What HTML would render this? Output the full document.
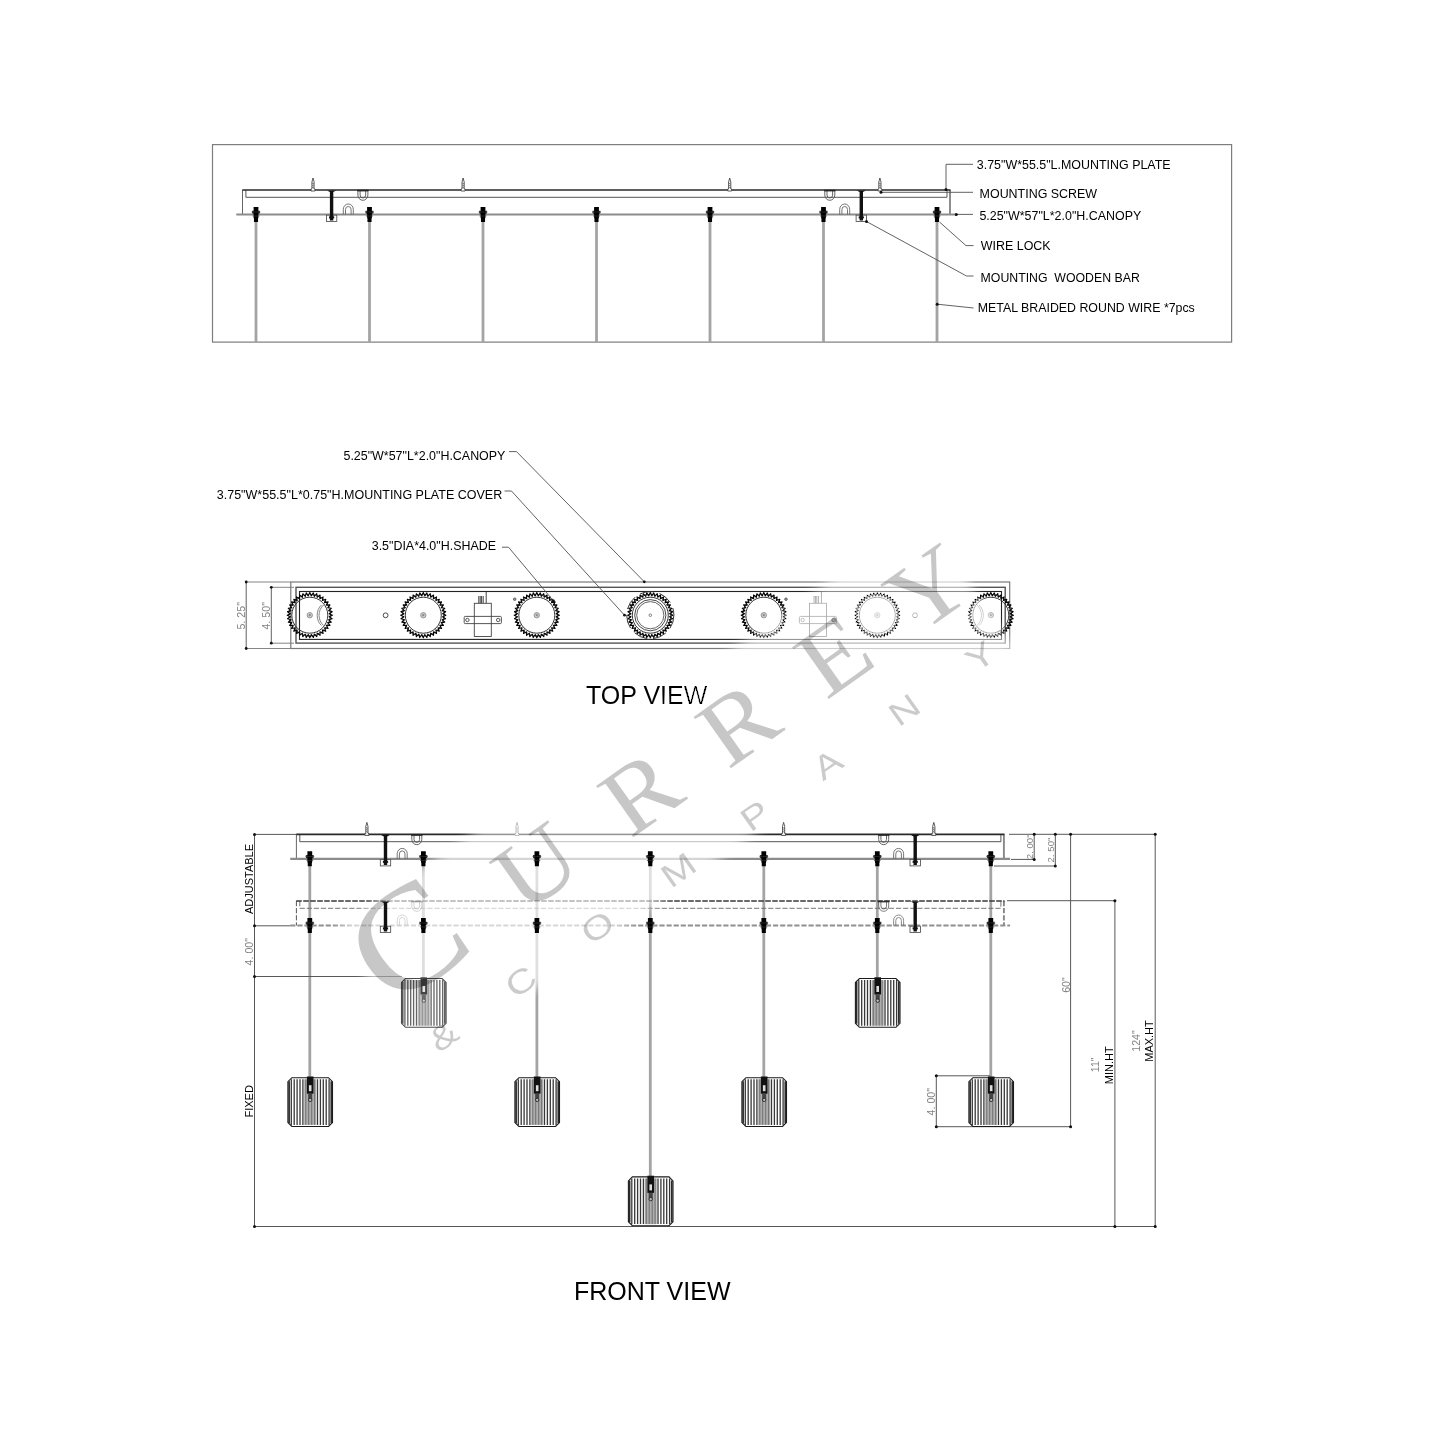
<!DOCTYPE html>
<html lang="en">
<head>
<meta charset="utf-8">
<title>Linear Multi-Drop Pendant - Dimension Drawing</title>
<style>
html,body{margin:0;padding:0;background:#fff;}
body{width:1445px;height:1445px;overflow:hidden;}
svg{display:block;filter:grayscale(1);}
text.s{font-family:"Liberation Sans",sans-serif;}
text.m{font-family:"Liberation Mono",monospace;}
text.serif{font-family:"Liberation Serif",serif;}
</style>
</head>
<body>
<svg width="1445" height="1445" viewBox="0 0 1445 1445">
<rect width="1445" height="1445" fill="#fff"/>
<defs>
<g id="lock"><path d="M-3.9,-3.8 H3.9 V-1.2 L2.6,-0.5 H-2.6 L-3.9,-1.2 Z" fill="#333"/><path d="M-2.4,-7.6 H2.4 V3.4 L2.05,4 V7.4 H-2.05 V4 L-2.4,3.4 Z" fill="#000"/><path d="M-4.4,-2.5 H4.4 M-3.4,1.5 H3.4" stroke="#333" stroke-width="0.7" fill="none"/></g>
<g id="screw"><path d="M0,-12 L1.1,-8 L1.1,-1 L2,-1 L2,1 L-2,1 L-2,-1 L-1.1,-1 L-1.1,-8 Z" fill="#fff" stroke="#333" stroke-width="0.8"/><path d="M-1,-7 L1,-6 M-1,-5 L1,-4 M-1,-3 L1,-2" stroke="#333" stroke-width="0.6"/></g>
<g id="bar"><rect x="-5.2" y="25.2" width="10.4" height="6.3" fill="#fff" stroke="#444" stroke-width="0.8"/><path d="M-4.6,0.4 L4.6,0.4 L1.7,2 L1.7,30.5 L-1.7,30.5 L-1.7,2 Z" fill="#111"/><rect x="-2.6" y="26.4" width="5.2" height="2" fill="#111"/></g>
<g id="ud" fill="none" stroke="#555" stroke-width="0.9"><path d="M-5,0.5 L-5,5 A5,5.3 0 0 0 5,5 L5,0.5"/><path d="M-2.8,0.5 L-2.8,5 A2.8,3 0 0 0 2.8,5 L2.8,0.5"/><path d="M-5.6,0.6 H5.6" stroke="#222" stroke-width="1.6"/></g>
<g id="uu" fill="none" stroke="#666" stroke-width="0.9"><path d="M-5,0 L-5,-5.2 A5,5.3 0 0 1 5,-5.2 L5,0"/><path d="M-2.8,0 L-2.8,-5 A2.8,3 0 0 1 2.8,-5 L2.8,0"/></g>
<g id="asm">
<path d="M0.2,0 V24.5" stroke="#666" stroke-width="1" fill="none"/>
<path d="M707.6999999999999,0 V24.5" stroke="#888" stroke-width="1.9" fill="none"/>
<path d="M3.6,0 V7.3 H704.6999999999999 V0" stroke="#444" stroke-width="0.9" fill="none"/>
<path d="M0,0 H708.3" stroke="#2a2a2a" stroke-width="1.7" fill="none"/>
<path d="M-6,24.5 H713.9" stroke="#8c8c8c" stroke-width="2.1" fill="none"/>
<use href="#ud" x="120.6" y="0"/>
<use href="#ud" x="587.5" y="0"/>
<use href="#uu" x="106" y="24.5"/>
<use href="#uu" x="602.4" y="24.5"/>
<use href="#screw" x="70.7" y="0"/>
<use href="#screw" x="220.8" y="0"/>
<use href="#screw" x="487.4" y="0"/>
<use href="#screw" x="637.6" y="0"/>
</g>
<g id="asmd">
<path d="M0.2,0 V24.5" stroke="#555" stroke-width="1" fill="none" stroke-dasharray="5.2 1.9"/>
<path d="M707.6999999999999,0 V24.5" stroke="#888" stroke-width="1.9" fill="none" stroke-dasharray="5.2 1.9"/>
<path d="M3.6,0 V7.3 H704.6999999999999 V0" stroke="#666" stroke-width="0.9" fill="none" stroke-dasharray="5.2 1.9"/>
<path d="M0,0 H708.3" stroke="#3a3a3a" stroke-width="1.7" fill="none" stroke-dasharray="5.6 1.4"/>
<path d="M-6,24.5 H713.9" stroke="#909090" stroke-width="2.1" fill="none" stroke-dasharray="5.2 1.9"/>
<use href="#ud" x="120.6" y="0" opacity="0.85"/>
<use href="#ud" x="587.5" y="0" opacity="0.85"/>
<use href="#uu" x="106" y="24.5" opacity="0.85"/>
<use href="#uu" x="602.4" y="24.5" opacity="0.85"/>
</g>
<g id="shade">
<path d="M-18.3,0 H18.3 L22.3,4 V44.8 L18.3,48.8 H-18.3 L-22.3,44.8 V4 Z" fill="#fff" stroke="#1a1a1a" stroke-width="1.1"/>
<rect x="-6" y="1.6" width="12" height="45.599999999999994" fill="#adadad"/>
<path d="M7.30,1.6 V47.199999999999996 M-7.30,1.6 V47.199999999999996 M10.20,1.6 V47.199999999999996 M-10.20,1.6 V47.199999999999996 M13.10,1.6 V47.199999999999996 M-13.10,1.6 V47.199999999999996 M16.00,1.6 V47.199999999999996 M-16.00,1.6 V47.199999999999996 M18.90,1.6 V47.199999999999996 M-18.90,1.6 V47.199999999999996" stroke="#383838" stroke-width="1.3" fill="none"/>
<path d="M-4.40,1.6 V47.199999999999996 M-1.50,1.6 V47.199999999999996 M1.50,1.6 V47.199999999999996 M4.40,1.6 V47.199999999999996" stroke="#6a6a6a" stroke-width="0.9" fill="none"/>
<path d="M-21.1,3.5 V45.3 M21.1,3.5 V45.3" stroke="#2a2a2a" stroke-width="1.7" fill="none"/>
<path d="M-3.3,-1.2 H3.3 V16 H-3.3 Z" fill="#111"/>
<rect x="-1.3" y="7.5" width="2.6" height="6" fill="#ddd"/>
<rect x="-1.9" y="16" width="3.8" height="5.4" fill="#444"/>
<circle cx="0" cy="22.2" r="1.7" fill="#bbb" stroke="#222" stroke-width="0.9"/>
</g>
<g id="gear">
<polygon points="22.60,0.00 19.34,1.52 22.32,3.54 18.86,4.53 21.49,6.98 17.92,7.42 20.14,10.26 16.54,10.14 18.28,13.28 14.75,12.60 15.98,15.98 12.60,14.75 13.28,18.28 10.14,16.54 10.26,20.14 7.42,17.92 6.98,21.49 4.53,18.86 3.54,22.32 1.52,19.34 0.00,22.60 -1.52,19.34 -3.54,22.32 -4.53,18.86 -6.98,21.49 -7.42,17.92 -10.26,20.14 -10.14,16.54 -13.28,18.28 -12.60,14.75 -15.98,15.98 -14.75,12.60 -18.28,13.28 -16.54,10.14 -20.14,10.26 -17.92,7.42 -21.49,6.98 -18.86,4.53 -22.32,3.54 -19.34,1.52 -22.60,0.00 -19.34,-1.52 -22.32,-3.54 -18.86,-4.53 -21.49,-6.98 -17.92,-7.42 -20.14,-10.26 -16.54,-10.14 -18.28,-13.28 -14.75,-12.60 -15.98,-15.98 -12.60,-14.75 -13.28,-18.28 -10.14,-16.54 -10.26,-20.14 -7.42,-17.92 -6.98,-21.49 -4.53,-18.86 -3.54,-22.32 -1.52,-19.34 -0.00,-22.60 1.52,-19.34 3.54,-22.32 4.53,-18.86 6.98,-21.49 7.42,-17.92 10.26,-20.14 10.14,-16.54 13.28,-18.28 12.60,-14.75 15.98,-15.98 14.75,-12.60 18.28,-13.28 16.54,-10.14 20.14,-10.26 17.92,-7.42 21.49,-6.98 18.86,-4.53 22.32,-3.54 19.34,-1.52" fill="none" stroke="#000" stroke-width="1.15" stroke-linejoin="round"/>
<circle r="20.6" fill="none" stroke="#111" stroke-width="1.3" stroke-dasharray="1.6 1.63"/>
<circle r="18" fill="none" stroke="#333" stroke-width="1"/>
<circle r="2.7" fill="#ccc" stroke="#888" stroke-width="0.8"/>
<circle r="1.1" fill="#888"/>
</g>
<g id="trafo" fill="none" stroke="#444" stroke-width="0.9">
<rect x="-8.5" y="-11.7" width="17" height="33.2" fill="#fff"/>
<rect x="-18.6" y="1.4" width="37.2" height="7.2" rx="1"/>
<circle cx="-15.4" cy="5" r="1.7"/><circle cx="15.4" cy="5" r="1.7"/>
<path d="M-4,-11.7 V-19 M-2.6,-11.7 V-19 M-1.2,-11.7 V-19 M0.4,-11.7 V-19 M3.4,-11.7 V-23" stroke="#444" stroke-width="1"/>
</g>
<filter id="fade" x="0" y="0" width="1445" height="1445" filterUnits="userSpaceOnUse" color-interpolation-filters="sRGB"><feComponentTransfer><feFuncR type="gamma" amplitude="1" exponent="0.3" offset="0"/><feFuncG type="gamma" amplitude="1" exponent="0.3" offset="0"/><feFuncB type="gamma" amplitude="1" exponent="0.3" offset="0"/></feComponentTransfer></filter>
<filter id="soft" x="-20%" y="-20%" width="140%" height="140%"><feGaussianBlur stdDeviation="4"/></filter>
<mask id="bandmask" maskUnits="userSpaceOnUse" x="0" y="0" width="1445" height="1445"><g transform="translate(412 942) rotate(-35.3)"><rect x="-58" y="-54" width="720" height="164" fill="#fff" filter="url(#soft)"/></g></mask>
</defs>
<g id="drawing">
<g id="section">
<rect x="212.5" y="144.6" width="1019.1" height="197.5" fill="none" stroke="#7d7d7d" stroke-width="1.2"/>
<path d="M256.0,220.5 V342" stroke="#a4a4a4" stroke-width="2.8" fill="none"/>
<path d="M369.5,220.5 V342" stroke="#a4a4a4" stroke-width="2.8" fill="none"/>
<path d="M483.0,220.5 V342" stroke="#a4a4a4" stroke-width="2.8" fill="none"/>
<path d="M596.5,220.5 V342" stroke="#a4a4a4" stroke-width="2.8" fill="none"/>
<path d="M710.0,220.5 V342" stroke="#a4a4a4" stroke-width="2.8" fill="none"/>
<path d="M823.5,220.5 V342" stroke="#a4a4a4" stroke-width="2.8" fill="none"/>
<path d="M937.0,220.5 V342" stroke="#a4a4a4" stroke-width="2.8" fill="none"/>
<use href="#asm" x="242.3" y="190.0"/>
<use href="#bar" x="331.6" y="190.0"/>
<use href="#bar" x="861.3" y="190.0"/>
<use href="#lock" x="256.0" y="214.5"/>
<use href="#lock" x="369.5" y="214.5"/>
<use href="#lock" x="483.0" y="214.5"/>
<use href="#lock" x="596.5" y="214.5"/>
<use href="#lock" x="710.0" y="214.5"/>
<use href="#lock" x="823.5" y="214.5"/>
<use href="#lock" x="937.0" y="214.5"/>
<g fill="none" stroke="#505050" stroke-width="0.9">
<path d="M946,189.6 V164.3 H973"/>
<path d="M881,192.3 H973"/>
<path d="M956.3,214.4 H973"/>
<path d="M939.5,222 L966,245.6 H973.5"/>
<path d="M866.5,221.5 L966.5,276 H973.5"/>
<path d="M937.2,304.2 L973.5,308"/>
</g>
<circle cx="946" cy="189.6" r="1.5" fill="#111"/>
<circle cx="881" cy="192.3" r="1.5" fill="#111"/>
<circle cx="956.3" cy="214.4" r="1.5" fill="#111"/>
<circle cx="866.5" cy="221.5" r="1.5" fill="#111"/>
<circle cx="937.2" cy="304.2" r="1.5" fill="#111"/>
</g>
<g id="topview">
<rect x="290.8" y="582" width="718.9" height="66.5" fill="none" stroke="#7a7a7a" stroke-width="1.2"/>
<rect x="296" y="587.3" width="709.2" height="55.8" fill="none" stroke="#555" stroke-width="1.4"/>
<rect x="299.5" y="591.5" width="702" height="47.9" fill="none" stroke="#222" stroke-width="1.1"/>
<use href="#gear" x="309.8" y="615.2"/>
<use href="#gear" x="423.3" y="615.2"/>
<use href="#gear" x="536.8" y="615.2"/>
<use href="#gear" x="650.3" y="615.2"/>
<use href="#gear" x="763.8" y="615.2"/>
<use href="#gear" x="877.3" y="615.2"/>
<use href="#gear" x="990.8" y="615.2"/>
<circle cx="650.3" cy="615.2" r="15.6" fill="none" stroke="#333" stroke-width="0.9"/>
<circle cx="650.3" cy="615.2" r="13.6" fill="#fff" stroke="#555" stroke-width="0.9"/>
<circle cx="650.3" cy="615.2" r="1.3" fill="#fff" stroke="#555" stroke-width="0.7"/>
<circle cx="650.3" cy="615.2" r="23.6" fill="none" stroke="#333" stroke-width="1" stroke-dasharray="14 6"/>
<path d="M323.5,605 A14,14 0 0 0 323.5,625.5 M321.5,605 A9,12 0 0 0 321.5,625.5" fill="none" stroke="#666" stroke-width="0.8"/>
<path d="M977,605 A14,14 0 0 1 977,625.5 M979,605 A9,12 0 0 1 979,625.5" fill="none" stroke="#666" stroke-width="0.8"/>
<circle cx="385.6" cy="615.3" r="2.4" fill="#fff" stroke="#333" stroke-width="0.9"/>
<circle cx="915" cy="615.3" r="2.4" fill="#fff" stroke="#333" stroke-width="0.9"/>
<circle cx="514.7" cy="599.2" r="1.3" fill="#999" stroke="#444" stroke-width="0.7"/>
<circle cx="786" cy="599.2" r="1.3" fill="#999" stroke="#444" stroke-width="0.7"/>
<use href="#trafo" x="482.8" y="615"/>
<use href="#trafo" x="818" y="615"/>
<circle cx="834" cy="620" r="2.1" fill="#666" stroke="#222" stroke-width="0.8"/>
<g fill="none" stroke="#505050" stroke-width="0.9">
<path d="M246.2,582 V648.5 M271.3,587.3 V643.2"/>
<path d="M246.2,582 H290.8 M246.2,648.5 H290.8 M271.3,587.3 H294 M271.3,643.2 H294" stroke="#777"/>
<path d="M509,451.6 H516.5 L644.3,581.8"/>
<path d="M504.5,491 H511.5 L624.5,615.2"/>
<path d="M502,547.2 H508.5 L553.5,601"/>
</g>
<circle cx="246.2" cy="582" r="1.4" fill="#111"/>
<circle cx="246.2" cy="648.5" r="1.4" fill="#111"/>
<circle cx="271.3" cy="587.3" r="1.4" fill="#111"/>
<circle cx="271.3" cy="643.2" r="1.4" fill="#111"/>
<circle cx="644.3" cy="581.8" r="1.4" fill="#111"/>
<circle cx="624.5" cy="615.2" r="1.4" fill="#111"/>
<circle cx="553.5" cy="601" r="1.4" fill="#111"/>
</g>
<g id="front">
<path d="M309.8,864.9 V1077.3" stroke="#a4a4a4" stroke-width="2.8" fill="none"/>
<path d="M423.4,864.9 V978.1" stroke="#a4a4a4" stroke-width="2.8" fill="none"/>
<path d="M536.9,864.9 V1077.3" stroke="#a4a4a4" stroke-width="2.8" fill="none"/>
<path d="M650.3,864.9 V1176.5" stroke="#a4a4a4" stroke-width="2.8" fill="none"/>
<path d="M763.8,864.9 V1077.3" stroke="#a4a4a4" stroke-width="2.8" fill="none"/>
<path d="M877.3,864.9 V978.1" stroke="#a4a4a4" stroke-width="2.8" fill="none"/>
<path d="M990.8,864.9 V1077.3" stroke="#a4a4a4" stroke-width="2.8" fill="none"/>
<use href="#asmd" x="296.2" y="901.0"/>
<use href="#asm" x="296.2" y="834.4"/>
<g fill="none" stroke="#585858" stroke-width="1">
<path d="M254.5,834.4 V1226.5 H1155.2"/>
<path d="M254.5,834.4 H296 M254.5,925.8 H290 M254.5,976.5 H402"/>
<path d="M1009,834.3 H1155.2 V1226.5"/>
<path d="M1034.2,834.3 V859.4 M1011,859.4 H1034.2"/>
<path d="M1055.3,834.3 V866 M994,866 H1055.3"/>
<path d="M1070.6,834.3 V1126.7 H936.3 V1075.8 H990"/>
<path d="M1007,900.7 H1114.9 V1226.5"/>
</g>
<circle cx="254.5" cy="834.4" r="1.5" fill="#111"/>
<circle cx="254.5" cy="925.8" r="1.5" fill="#111"/>
<circle cx="254.5" cy="976.5" r="1.5" fill="#111"/>
<circle cx="254.5" cy="1226.5" r="1.5" fill="#111"/>
<circle cx="1155.2" cy="834.3" r="1.5" fill="#111"/>
<circle cx="1155.2" cy="1226.5" r="1.5" fill="#111"/>
<circle cx="1034.2" cy="834.3" r="1.5" fill="#111"/>
<circle cx="1034.2" cy="859.4" r="1.5" fill="#111"/>
<circle cx="1055.3" cy="834.3" r="1.5" fill="#111"/>
<circle cx="1055.3" cy="866" r="1.5" fill="#111"/>
<circle cx="1070.6" cy="834.3" r="1.5" fill="#111"/>
<circle cx="1070.6" cy="1126.7" r="1.5" fill="#111"/>
<circle cx="936.3" cy="1126.7" r="1.5" fill="#111"/>
<circle cx="936.3" cy="1075.8" r="1.5" fill="#111"/>
<circle cx="1114.9" cy="900.7" r="1.5" fill="#111"/>
<circle cx="1114.9" cy="1226.5" r="1.5" fill="#111"/>
</g>
<text class="s" x="976.8" y="169" font-size="12.45" text-anchor="start" fill="#000">3.75&quot;W*55.5&quot;L.MOUNTING PLATE</text>
<text class="s" x="979.6" y="198.1" font-size="12.45" text-anchor="start" fill="#000">MOUNTING SCREW</text>
<text class="s" x="979.4" y="219.9" font-size="12.45" text-anchor="start" fill="#000">5.25&quot;W*57&quot;L*2.0&quot;H.CANOPY</text>
<text class="s" x="980.8" y="250.3" font-size="12.45" text-anchor="start" fill="#000">WIRE LOCK</text>
<text class="s" x="980.6" y="281.7" font-size="12.3" text-anchor="start" fill="#000" xml:space="preserve">MOUNTING  WOODEN BAR</text>
<text class="s" x="977.8" y="311.6" font-size="12.37" text-anchor="start" fill="#000">METAL BRAIDED ROUND WIRE *7pcs</text>
<text class="s" x="505.4" y="460" font-size="12.45" text-anchor="end" fill="#000">5.25&quot;W*57&quot;L*2.0&quot;H.CANOPY</text>
<text class="s" x="502.2" y="499.2" font-size="12.5" text-anchor="end" fill="#000">3.75&quot;W*55.5&quot;L*0.75&quot;H.MOUNTING PLATE COVER</text>
<text class="s" x="496" y="549.7" font-size="12.45" text-anchor="end" fill="#000">3.5&quot;DIA*4.0&quot;H.SHADE</text>
<text class="s" x="586" y="704" font-size="25" text-anchor="start" fill="#000">TOP VIEW</text>
<text class="s" x="574" y="1299.5" font-size="25" text-anchor="start" fill="#000">FRONT VIEW</text>
<text class="s" transform="translate(252.8 879) rotate(-90)" font-size="11" text-anchor="middle" fill="#000">ADJUSTABLE</text>
<text class="s" transform="translate(252.8 1101.3) rotate(-90)" font-size="11" text-anchor="middle" fill="#000">FIXED</text>
<text class="s" transform="translate(1112.8 1065.3) rotate(-90)" font-size="11" text-anchor="middle" fill="#000">MIN.HT</text>
<text class="s" transform="translate(1152.6 1041) rotate(-90)" font-size="11" text-anchor="middle" fill="#000">MAX.HT</text>
<text class="s" transform="translate(244.8 615.8) rotate(-90)" font-size="10.7" text-anchor="middle" fill="#828282" xml:space="preserve">5. 25&quot;</text>
<text class="s" transform="translate(270 615.8) rotate(-90)" font-size="10.7" text-anchor="middle" fill="#828282" xml:space="preserve">4. 50&quot;</text>
<text class="s" transform="translate(253 951.7) rotate(-90)" font-size="10.7" text-anchor="middle" fill="#828282" xml:space="preserve">4. 00&quot;</text>
<text class="s" transform="translate(1033 846.8) rotate(-90)" font-size="9.6" text-anchor="middle" fill="#828282" xml:space="preserve">2. 00&quot;</text>
<text class="s" transform="translate(1054.2 850) rotate(-90)" font-size="9.6" text-anchor="middle" fill="#828282" xml:space="preserve">2. 50&quot;</text>
<text class="s" transform="translate(1069.8 985) rotate(-90)" font-size="10.7" text-anchor="middle" fill="#828282" xml:space="preserve">60&quot;</text>
<text class="s" transform="translate(1099.2 1064.8) rotate(-90)" font-size="10.7" text-anchor="middle" fill="#828282" xml:space="preserve">11&quot;</text>
<text class="s" transform="translate(1140 1041) rotate(-90)" font-size="10.7" text-anchor="middle" fill="#828282" xml:space="preserve">124&quot;</text>
<text class="s" transform="translate(935.4 1101.7) rotate(-90)" font-size="10.7" text-anchor="middle" fill="#828282" xml:space="preserve">4. 00&quot;</text>
</g>
<g mask="url(#bandmask)"><g filter="url(#fade)"><rect width="1445" height="1445" fill="#fff"/><use href="#drawing"/></g></g>
<g id="solid">
<use href="#bar" x="385.5" y="834.4"/>
<use href="#bar" x="385.5" y="901.0"/>
<use href="#bar" x="915.2" y="834.4"/>
<use href="#bar" x="915.2" y="901.0"/>
<use href="#lock" x="309.8" y="858.9"/>
<use href="#lock" x="309.8" y="925.5"/>
<use href="#lock" x="423.4" y="858.9"/>
<use href="#lock" x="423.4" y="925.5"/>
<use href="#lock" x="536.9" y="858.9"/>
<use href="#lock" x="536.9" y="925.5"/>
<use href="#lock" x="650.3" y="858.9"/>
<use href="#lock" x="650.3" y="925.5"/>
<use href="#lock" x="763.8" y="858.9"/>
<use href="#lock" x="763.8" y="925.5"/>
<use href="#lock" x="877.3" y="858.9"/>
<use href="#lock" x="877.3" y="925.5"/>
<use href="#lock" x="990.8" y="858.9"/>
<use href="#lock" x="990.8" y="925.5"/>
<use href="#shade" x="310.2" y="1077.7"/>
<use href="#shade" x="423.8" y="978.5" opacity="0.78"/>
<use href="#shade" x="537.2" y="1077.7"/>
<use href="#shade" x="650.7" y="1176.9"/>
<use href="#shade" x="764.2" y="1077.7"/>
<use href="#shade" x="877.7" y="978.5"/>
<use href="#shade" x="991.2" y="1077.7"/>
</g>
<g id="wm" transform="translate(412 942) rotate(-35.3)">
<text class="serif" transform="scale(1.1 1)" fill="#000" opacity="0.215" text-anchor="middle"><tspan x="-2.7" y="44" font-size="146">C</tspan><tspan x="131.8 248.2 356.8 463.6 569.1" y="42.5" font-size="97">URREY</tspan></text>
<text class="s" transform="scale(1.25 1)" fill="#000" opacity="0.2" text-anchor="middle" font-size="33" x="-23.2 14.4 52.8 128.0 207.2 282.4 353.6 428.8 503.2" y="106.5" xml:space="preserve">&amp; COMPANY</text>
</g>
</svg>
</body>
</html>
